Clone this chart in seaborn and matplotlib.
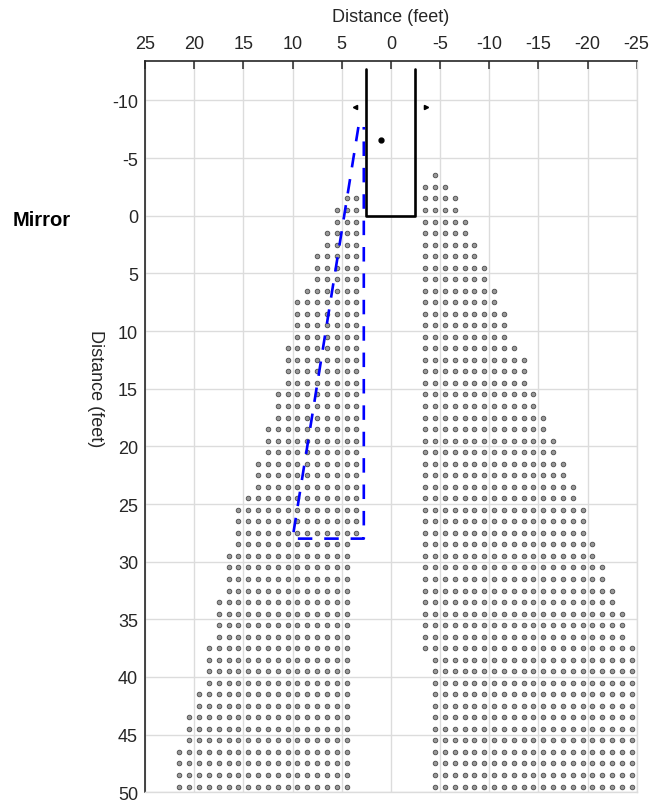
import numpy as np
import pandas as pd
import matplotlib
matplotlib.use("Agg")
import matplotlib.pyplot as plt
import seaborn as sns

# ── Data ────────────────────────────────────────────────
# one row of dots per half foot line, extents in feet
row_y = [-3.5, -2.5, -1.5, -0.5, 0.5, 1.5, 2.5, 3.5, 4.5, 5.5,
         6.5, 7.5, 8.5, 9.5, 10.5, 11.5, 12.5, 13.5, 14.5, 15.5,
         16.5, 17.5, 18.5, 19.5, 20.5, 21.5, 22.5, 23.5, 24.5, 25.5,
         26.5, 27.5, 28.5, 29.5, 30.5, 31.5, 32.5, 33.5, 34.5, 35.5,
         36.5, 37.5, 38.5, 39.5, 40.5, 41.5, 42.5, 43.5, 44.5, 45.5,
         46.5, 47.5, 48.5, 49.5]

left_inner = [None, None, 3.5, 3.5, 3.5, 3.5, 3.5, 3.5, 3.5, 3.5,
              3.5, 3.5, 3.5, 3.5, 3.5, 3.5, 3.5, 3.5, 3.5, 3.5,
              3.5, 3.5, 3.5, 3.5, 3.5, 3.5, 3.5, 3.5, 3.5, 3.5,
              3.5, 3.5, 4.5, 4.5, 4.5, 4.5, 4.5, 4.5, 4.5, 4.5,
              4.5, 4.5, 4.5, 4.5, 4.5, 4.5, 4.5, 4.5, 4.5, 4.5,
              4.5, 4.5, 4.5, 4.5]
left_outer = [None, None, 4.5, 5.5, 5.5, 6.5, 6.5, 7.5, 7.5, 7.5,
              8.5, 9.5, 9.5, 9.5, 9.5, 10.5, 10.5, 10.5, 10.5, 11.5,
              11.5, 11.5, 12.5, 12.5, 12.5, 13.5, 13.5, 13.5, 14.5, 15.5,
              15.5, 15.5, 15.5, 16.5, 16.5, 16.5, 16.5, 17.5, 17.5, 17.5,
              17.5, 18.5, 18.5, 18.5, 18.5, 19.5, 19.5, 20.5, 20.5, 20.5,
              21.5, 21.5, 21.5, 21.5]

right_inner = [-4.5, -3.5, -3.5, -3.5, -3.5, -3.5, -3.5, -3.5, -3.5, -3.5,
               -3.5, -3.5, -3.5, -3.5, -3.5, -3.5, -3.5, -3.5, -3.5, -3.5,
               -3.5, -3.5, -3.5, -3.5, -3.5, -3.5, -3.5, -3.5, -3.5, -3.5,
               -3.5, -3.5, -3.5, -3.5, -3.5, -3.5, -3.5, -3.5, -3.5, -3.5,
               -3.5, -3.5, -4.5, -4.5, -4.5, -4.5, -4.5, -4.5, -4.5, -4.5,
               -4.5, -4.5, -4.5, -4.5]
right_outer = [-4.5, -5.5, -6.5, -6.5, -7.5, -7.5, -8.5, -8.5, -9.5, -9.5,
               -10.5, -10.5, -11.5, -11.5, -11.5, -12.5, -13.5, -13.5, -13.5, -14.5,
               -14.5, -15.5, -15.5, -16.5, -16.5, -17.5, -17.5, -18.5, -18.5, -19.5,
               -19.5, -19.5, -20.5, -20.5, -21.5, -21.5, -22.5, -22.5, -23.5, -23.5,
               -23.5, -24.5, -24.5, -24.5, -24.5, -24.5, -24.5, -24.5, -24.5, -24.5,
               -24.5, -24.5, -24.5, -24.5]

# mirror outline (open at the top)
mirror_x = [2.5, 2.5, -2.5, -2.5]
mirror_y = [-12.7, 0.0, 0.0, -12.7]

# blue dashed zone (open at the top)
zone_x = [3.3, 10.0, 2.75, 2.75]
zone_y = [-7.7, 28.0, 28.0, -7.7]

viewer_x, viewer_y = [1.0], [-6.6]
arrow_left_x, arrow_right_x = [3.6], [-3.6]
arrow_y = [-9.45]

xticks = [25, 20, 15, 10, 5, 0, -5, -10, -15, -20, -25]
yticks = [-10, -5, 0, 5, 10, 15, 20, 25, 30, 35, 40, 45, 50]

# ── Expand row extents into dots ────────────────────────
pts = []
for y, a, b in zip(row_y, left_inner, left_outer):
    if a is None:
        continue
    for x in np.arange(a, b + 0.01, 1.0):
        pts.append((x, y))
for y, a, b in zip(row_y, right_inner, right_outer):
    for x in np.arange(b, a + 0.01, 1.0):
        pts.append((x, y))
df = pd.DataFrame(pts, columns=["x", "y"])

# ── Plot ────────────────────────────────────────────────
sns.set_style("white")
plt.rcParams['font.family'] = ['Liberation Sans', 'DejaVu Sans']
plt.rcParams['axes.unicode_minus'] = False

fig = plt.figure(figsize=(6.52, 8.04), dpi=100)
ax = fig.add_axes([0.2224, 0.0133, 0.7541, 0.9100])

grid_c = "#dcdcdc"
ax.grid(True, color=grid_c, lw=1.0)
ax.set_axisbelow(True)

sns.scatterplot(data=df, x="x", y="y", marker="o", s=11, color="#9a9a9a",
                edgecolor="#4a4a4a", linewidth=0.6, ax=ax, legend=False, zorder=3)

ax.plot(mirror_x, mirror_y, color="black", lw=1.9, zorder=4)
ax.plot(zone_x, zone_y, color="#0000ff", lw=1.9, linestyle=(0, (5.5, 4.5)), zorder=5)
ax.plot(viewer_x, viewer_y, "o", color="black", ms=3.5, zorder=6)
ax.plot(arrow_left_x, arrow_y, "<", color="black", ms=3, zorder=6)
ax.plot(arrow_right_x, arrow_y, ">", color="black", ms=3, zorder=6)

ax.set_xlim(25, -25)
ax.set_ylim(50, -13.45)
ax.set_xticks(xticks)
ax.set_yticks(yticks)
ax.xaxis.tick_top()
ax.xaxis.set_label_position("top")
ax.tick_params(direction="in", length=5.5, width=1.1, labelsize=13,
               colors="#262626", pad=5)
ax.tick_params(axis="x", pad=6)
ax.set_xlabel("Distance (feet)", fontsize=13, color="#262626", labelpad=10)
ax.set_ylabel("")

for side in ["left", "top"]:
    ax.spines[side].set_color("#262626")
    ax.spines[side].set_linewidth(1.2)
for side in ["right", "bottom"]:
    ax.spines[side].set_color(grid_c)
    ax.spines[side].set_linewidth(1.0)

fig.text(95 / 652, 1 - 389 / 804, "Distance (feet)", rotation=270,
         fontsize=13, color="#262626", ha="center", va="center")
fig.text(13 / 652, 1 - 221 / 804, "Mirror", fontsize=14.5,
         fontweight="bold", color="black", ha="left", va="center")

fig.savefig("out.png", dpi=100)
